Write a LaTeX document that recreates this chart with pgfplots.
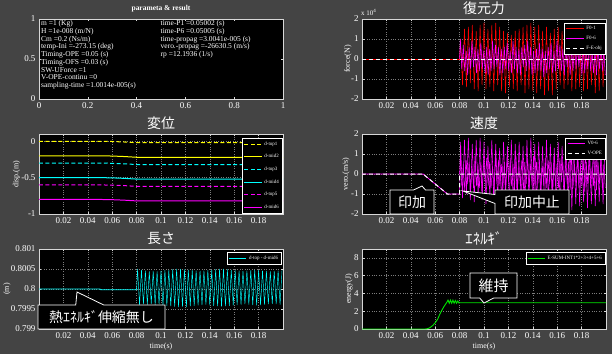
\documentclass[border=0pt]{standalone}
\usepackage{pgfplots}
\pgfplotsset{compat=1.18}
\usepackage{pgfplotstable}
\usepackage{fontspec}
\setmainfont{Liberation Serif}
\newfontfamily\cjk{Noto Sans CJK JP}
\usetikzlibrary{shapes.callouts}
\definecolor{bg}{RGB}{68,68,68}
\definecolor{axc}{RGB}{215,215,215}
\definecolor{gridc}{RGB}{125,125,125}
\definecolor{myyel}{RGB}{255,255,0}
\definecolor{mycyan}{RGB}{0,255,255}
\definecolor{mymag}{RGB}{255,0,255}
\definecolor{myred}{RGB}{255,0,0}
\definecolor{mygreen}{RGB}{0,230,0}

\pgfplotstableread{
t F01 V06 L
0.0800 0 -1 0.80000
0.0808 1.0 1.6 0.80050
0.0824 -1.3 -1.2 0.79960
0.0840 1.5 1.7 0.80048
0.0856 -1.4 -1.0 0.79962
0.0872 1.6 1.8 0.80046
0.0888 -1.2 -1.3 0.79961
0.0904 1.7 1.5 0.80044
0.0920 -1.5 -1.4 0.79963
0.0936 1.4 1.7 0.80045
0.0952 -1.6 -1.1 0.79960
0.0968 1.7 1.8 0.80044
0.0984 -1.3 -1.3 0.79962
0.1000 1.8 1.6 0.80046
0.1016 -1.5 -1.5 0.79959
0.1032 1.5 1.4 0.80047
0.1048 -1.4 -1.2 0.79958
0.1064 1.7 1.7 0.80048
0.1080 -1.6 -1.4 0.79957
0.1096 1.8 1.5 0.80049
0.1112 -1.3 -1.3 0.79956
0.1128 1.6 1.3 0.80050
0.1144 -1.6 -1.5 0.79955
0.1160 1.4 1.6 0.80050
0.1176 -1.7 -1.2 0.79956
0.1192 1.3 1.4 0.80049
0.1208 -1.4 -1.4 0.79955
0.1224 1.2 1.7 0.80048
0.1240 -1.5 -1.6 0.79957
0.1256 1.4 1.5 0.80047
0.1272 -1.6 -1.3 0.79958
0.1288 1.5 1.6 0.80046
0.1304 -1.3 -1.5 0.79959
0.1320 1.6 1.4 0.80045
0.1336 -1.7 -1.4 0.79960
0.1352 1.7 1.7 0.80046
0.1368 -1.5 -1.2 0.79961
0.1384 1.8 1.8 0.80047
0.1400 -1.6 -1.6 0.79959
0.1416 1.6 1.5 0.80048
0.1432 -1.7 -1.5 0.79958
0.1448 1.7 1.6 0.80049
0.1464 -1.5 -1.3 0.79957
0.1480 1.4 1.4 0.80050
0.1496 -1.8 -1.7 0.79956
0.1512 1.6 1.7 0.80050
0.1528 -1.6 -1.4 0.79957
0.1544 1.3 1.5 0.80049
0.1560 -1.8 -1.6 0.79958
0.1576 1.5 1.3 0.80048
0.1592 -1.5 -1.5 0.79959
0.1608 1.6 1.6 0.80047
0.1624 -1.3 -1.7 0.79960
0.1640 1.4 1.4 0.80046
0.1656 -1.5 -1.4 0.79961
0.1672 1.6 1.8 0.80045
0.1688 -1.3 -1.6 0.79962
0.1704 1.7 1.7 0.80046
0.1720 -1.6 -1.8 0.79961
0.1736 1.7 1.5 0.80047
0.1752 -1.5 -1.5 0.79960
0.1768 1.4 1.4 0.80048
0.1784 -1.4 -1.6 0.79959
0.1800 1.6 1.6 0.80047
0.1816 -1.6 -1.4 0.79960
0.1832 1.3 1.3 0.80046
0.1848 -1.5 -1.7 0.79961
0.1864 1.5 1.5 0.80045
0.1880 -1.3 -1.5 0.79962
0.1896 1.4 1.4 0.80044
0.1912 -1.7 -1.6 0.79963
0.1928 1.3 1.6 0.80045
0.1944 -1.6 -1.4 0.79962
0.1960 1.2 1.3 0.80046
0.1976 -1.4 -1.5 0.79961
0.1992 1.5 1.5 0.80047
}\tabA

\pgfplotstableread{
t F06 Vb Lb
0.0800 0 0 0.80000
0.0806 1.0 0.8 0.80022
0.0818 -0.5 -0.6 0.79982
0.0830 0.7 0.5 0.80025
0.0842 -0.6 -0.9 0.79980
0.0854 0.4 0.7 0.80019
0.0866 -0.8 -0.5 0.79977
0.0878 0.6 0.6 0.80024
0.0890 -0.5 -0.8 0.79983
0.0902 0.9 0.4 0.80021
0.0914 -0.4 -0.7 0.79978
0.0926 0.6 0.9 0.80018
0.0938 -0.7 -0.6 0.79976
0.0950 0.5 0.5 0.80023
0.0962 -0.6 -0.7 0.79981
0.0974 0.8 0.6 0.80020
0.0986 -0.5 -0.9 0.79979
0.0998 0.4 0.7 0.80025
0.1010 -0.7 -0.4 0.79982
0.1022 0.6 0.8 0.80022
0.1034 -0.8 -0.6 0.79980
0.1046 0.5 0.6 0.80019
0.1058 -0.6 -0.7 0.79977
0.1070 0.9 0.4 0.80021
0.1082 -0.5 -0.8 0.79983
0.1094 0.7 0.9 0.80024
0.1106 -0.4 -0.5 0.79978
0.1118 0.6 0.7 0.80018
0.1130 -0.8 -0.6 0.79980
0.1142 0.5 0.5 0.80023
0.1154 -0.7 -0.9 0.79981
0.1166 0.6 0.6 0.80020
0.1178 -0.5 -0.7 0.79976
0.1190 0.8 0.8 0.80022
0.1202 -0.6 -0.4 0.79982
0.1214 0.4 0.7 0.80025
0.1226 -0.7 -0.6 0.79979
0.1238 0.9 0.5 0.80019
0.1250 -0.5 -0.8 0.79977
0.1262 0.6 0.9 0.80021
0.1274 -0.7 -0.7 0.79983
0.1286 0.5 0.4 0.80024
0.1298 -0.8 -0.6 0.79980
0.1310 0.6 0.7 0.80018
0.1322 -0.4 -0.9 0.79978
0.1334 0.7 0.6 0.80023
0.1346 -0.6 -0.5 0.79981
0.1358 0.9 0.8 0.80021
0.1370 -0.5 -0.7 0.79975
0.1382 0.6 0.5 0.80020
0.1394 -0.8 -0.6 0.79982
0.1406 0.4 0.9 0.80022
0.1418 -0.7 -0.8 0.79979
0.1430 0.5 0.6 0.80019
0.1442 -0.6 -0.5 0.79977
0.1454 0.8 0.7 0.80024
0.1466 -0.6 -0.9 0.79980
0.1478 0.5 0.4 0.80018
0.1490 -0.9 -0.6 0.79978
0.1502 0.4 0.8 0.80021
0.1514 -0.7 -0.7 0.79981
0.1526 0.6 0.7 0.80023
0.1538 -0.5 -0.5 0.79983
0.1550 0.8 0.6 0.80020
0.1562 -0.7 -0.8 0.79976
0.1574 0.4 0.9 0.80019
0.1586 -0.6 -0.6 0.79979
0.1598 0.9 0.5 0.80025
0.1610 -0.5 -0.7 0.79982
0.1622 0.7 0.8 0.80022
0.1634 -0.6 -0.4 0.79980
0.1646 0.5 0.6 0.80018
0.1658 -0.8 -0.9 0.79977
0.1670 0.6 0.7 0.80021
0.1682 -0.4 -0.5 0.79981
0.1694 0.7 0.6 0.80024
0.1706 -0.8 -0.8 0.79978
0.1718 0.5 0.9 0.80020
0.1730 -0.6 -0.7 0.79982
0.1742 0.9 0.5 0.80023
0.1754 -0.5 -0.6 0.79979
0.1766 0.7 0.8 0.80019
0.1778 -0.4 -0.7 0.79978
0.1790 0.6 0.5 0.80024
0.1802 -0.8 -0.6 0.79980
0.1814 0.5 0.7 0.80021
0.1826 -0.7 -0.9 0.79982
0.1838 0.6 0.6 0.80023
0.1850 -0.5 -0.5 0.79975
0.1862 0.9 0.8 0.80020
0.1874 -0.6 -0.7 0.79981
0.1886 0.4 0.4 0.80022
0.1898 -0.7 -0.6 0.79979
0.1910 0.5 0.9 0.80018
0.1922 -0.8 -0.8 0.79976
0.1934 0.6 0.6 0.80021
0.1946 -0.5 -0.5 0.79980
0.1958 0.7 0.7 0.80025
0.1970 -0.6 -0.8 0.79981
0.1982 0.4 0.5 0.80022
0.1994 -0.8 -0.7 0.79977
}\tabB

\pgfplotsset{
  base/.style={
    scale only axis, width=244bp, height=80bp,
    axis background/.style={fill=black},
    axis line style={draw=axc, line width=0.5pt},
    tick style={draw=axc, line width=0.4pt},
    major tick length=2.5pt,
    tick label style={text=white, font=\fontsize{9}{9}\selectfont},
    label style={text=white, font=\fontsize{8}{8}\selectfont},
    title style={text=white, font=\cjk\fontsize{14}{14}\selectfont, at={(0.5,1)}, anchor=south, inner sep=0pt, yshift=-2pt},
    legend style={fill=black, draw=white, text=white, font=\fontsize{5}{5}\selectfont, line width=0.4pt, inner sep=1.5pt, row sep=1.2pt},
    legend cell align=left,
    legend image code/.code={\draw[##1] (0cm,0cm) -- (0.62cm,0cm);},
  },
  timeax/.style={base, xmin=0, xmax=0.2,
    xtick={0.02,0.04,0.06,0.08,0.1,0.12,0.14,0.16,0.18},
    xticklabels={0.02,0.04,0.06,0.08,0.1,0.12,0.14,0.16,0.18},
    grid=major, grid style={dotted, draw=gridc, line width=0.45pt},
  },
}

\begin{document}
\begin{tikzpicture}[x=1bp,y=1bp]
\fill[bg] (0,0) rectangle (612,354);

% ---------- panel 1: parameters ----------
\begin{axis}[base, at={(39bp,255bp)}, anchor=south west,
  xmin=0, xmax=1, ymin=0, ymax=1,
  xtick={0,0.2,0.4,0.6,0.8,1}, xticklabels={0,0.2,0.4,0.6,0.8,1},
  ytick={0,0.5,1}, yticklabels={0,0.5,1},
  title={parameta \& result},
  title style={font=\bfseries\fontsize{7.5}{7.5}\selectfont, yshift=2.5pt}]
\node[anchor=north west, inner sep=0pt, align=left, text=white, font=\fontsize{7.5}{7.8}\selectfont] at (axis cs:0.008,0.985)
 {m =1 (Kg)\\H =1e-008 (m/N)\\Cm =0.2 (Ns/m)\\temp-Ini =-273.15 (deg)\\Timing-OPE =0.05 (s)\\Timing-OFS =0.03 (s)\\SW-UForce =1\\V-OPE-continu =0\\sampling-time =1.0014e-005(s)};
\node[anchor=north west, inner sep=0pt, align=left, text=white, font=\fontsize{7.5}{7.8}\selectfont] at (axis cs:0.498,0.985)
 {time-P1 =0.05002 (s)\\time-P6 =0.05005 (s)\\time-propag =3.0041e-005 (s)\\vero.-propag =-26630.5 (m/s)\\rp =12.1936 (1/s)};
\end{axis}

% ---------- panel 2: force ----------
\begin{axis}[timeax, at={(362bp,255bp)}, anchor=south west,
  ymin=-2, ymax=2, ytick={-2,-1,0,1,2}, yticklabels={-2,-1,0,1,2},
  title={復元力}, ylabel={force(N)},
  ylabel style={at={(axis description cs:-0.058,0.5)}, anchor=center},
  legend style={at={(0.998,0.955)}, anchor=north east}]
\addplot[myred, line width=0.6pt, forget plot] coordinates {(0,0) (0.08,0)};
\addplot[myred, line width=0.55pt] table[x=t, y=F01] {\tabA};
\addplot[mymag, line width=0.55pt] table[x=t, y=F06] {\tabB};
\addplot[white, line width=1pt, dash pattern=on 4pt off 3pt] coordinates {(0,0) (0.2,0)};
\legend{F0-1,F0-6,F-E-obj}
\end{axis}
\node[anchor=south west, inner sep=0pt, text=white, font=\fontsize{7}{7}\selectfont] at (361,338) {x 10\textsuperscript{4}};

% ---------- panel 3: displacement ----------
\begin{axis}[timeax, at={(39bp,140bp)}, anchor=south west,
  ymin=-1, ymax=0.1, ytick={-1,-0.5,0}, yticklabels={-1,-0.5,0},
  title={変位}, ylabel={disp.(m)},
  ylabel style={at={(axis description cs:-0.092,0.5)}, anchor=center},
  legend style={at={(0.998,0.95)}, anchor=north east, row sep=3.7pt}]
\addplot[myyel, line width=1pt, dash pattern=on 4pt off 2.5pt] coordinates {(0,0) (0.05,0) (0.06,-0.003) (0.07,-0.01) (0.08,-0.02) (0.2,-0.02)};
\addplot[myyel, line width=1pt] coordinates {(0,-0.2) (0.05,-0.2) (0.06,-0.203) (0.07,-0.21) (0.08,-0.22) (0.2,-0.22)};
\addplot[mycyan, line width=1pt, dash pattern=on 4pt off 2.5pt] coordinates {(0,-0.3) (0.05,-0.3) (0.06,-0.303) (0.07,-0.31) (0.08,-0.32) (0.2,-0.32)};
\addplot[mycyan, line width=1pt] coordinates {(0,-0.5) (0.05,-0.5) (0.06,-0.503) (0.07,-0.51) (0.08,-0.52) (0.2,-0.52)};
\addplot[mymag, line width=1pt, dash pattern=on 4pt off 2.5pt] coordinates {(0,-0.6) (0.05,-0.6) (0.06,-0.603) (0.07,-0.61) (0.08,-0.62) (0.2,-0.62)};
\addplot[mymag, line width=1pt] coordinates {(0,-0.8) (0.05,-0.8) (0.06,-0.803) (0.07,-0.81) (0.08,-0.82) (0.2,-0.82)};
\legend{d-top1,d-mid2,d-top3,d-mid4,d-top5,d-mid6}
\end{axis}

% ---------- panel 4: velocity ----------
\begin{axis}[timeax, at={(362bp,140bp)}, anchor=south west,
  ymin=-2, ymax=2, ytick={-2,-1,0,1,2}, yticklabels={-2,-1,0,1,2},
  title={速度}, ylabel={vero.(m/s)},
  ylabel style={at={(axis description cs:-0.066,0.5)}, anchor=center},
  legend style={at={(0.998,0.955)}, anchor=north east}]
\addplot[mymag, line width=0.5pt, forget plot] table[x=t, y=Vb] {\tabB};
\addplot[mymag, line width=0.8pt, forget plot] coordinates {(0,0) (0.05,0) (0.07,-1) (0.08,-1)};
\addplot[mymag, line width=0.55pt, legend image post style={line width=0.9pt}] table[x=t, y=V06] {\tabA};
\addplot[white, line width=1pt, dash pattern=on 4pt off 3pt] coordinates {(0,0) (0.05,0) (0.07,-1) (0.08,-1) (0.08,0) (0.2,0)};
\legend{V0-6,V-OPE}
\end{axis}

% ---------- panel 5: length ----------
\begin{axis}[timeax, at={(39bp,25bp)}, anchor=south west,
  ymin=0.799, ymax=0.801, ytick={0.799,0.7995,0.8,0.8005,0.801}, yticklabels={0.799,0.7995,0.8,0.8005,0.801},
  title={長さ}, ylabel={(m)}, xlabel={time(s)},
  ylabel style={at={(axis description cs:-0.131,0.5)}, anchor=center},
  xlabel style={at={(axis description cs:0.5,-0.215)}, anchor=center},
  legend style={at={(0.995,0.96)}, anchor=north east}]
\addplot[mycyan, line width=0.8pt, forget plot] coordinates {(0,0.8) (0.05,0.8) (0.0505,0.79998) (0.0795,0.79998) (0.08,0.8)};
\addplot[mycyan, line width=0.45pt, legend image post style={line width=1.2pt}] table[x=t, y=L] {\tabA};
\legend{d-top - d-mid6}
\end{axis}

% ---------- panel 6: energy ----------
\begin{axis}[timeax, at={(362bp,25bp)}, anchor=south west,
  ymin=0, ymax=9, ytick={0,2,4,6,8}, yticklabels={0,2,4,6,8},
  title={ｴﾈﾙｷﾞ}, title style={font=\cjk\fontsize{15}{15}\selectfont},
  ylabel={energy(J)}, xlabel={time(s)},
  ylabel style={at={(axis description cs:-0.053,0.5)}, anchor=center},
  xlabel style={at={(axis description cs:0.5,-0.215)}, anchor=center},
  legend style={at={(0.998,0.96)}, anchor=north east}]
\addplot[mygreen, line width=0.9pt] coordinates {(0,0) (0.052,0) (0.054,0.05) (0.056,0.18) (0.058,0.4) (0.060,0.7) (0.062,1.1) (0.0634,1.55) (0.065,2.0) (0.0675,2.6) (0.0695,3.0) (0.0705,3.25) (0.0715,2.9) (0.0725,3.25) (0.0735,2.9) (0.0745,3.25) (0.0755,2.9) (0.0765,3.2) (0.0775,2.9) (0.0785,3.15) (0.0795,2.92) (0.08,2.95) (0.2,2.95)};
\legend{E-SUM-INT1*2+3+4+5+6}
\end{axis}

% ---------- callouts ----------
\tikzset{callst/.style={rectangle callout, draw=white, fill=black, text=white, line width=0.8pt, font=\cjk\fontsize{14}{14}\selectfont, inner sep=0pt, anchor=center}}
\node[callst, minimum width=44bp, minimum height=24bp, callout absolute pointer={(422,168)}, callout pointer width=12bp] at (412,152) {印加};
\node[callst, minimum width=74bp, minimum height=24bp, callout absolute pointer={(463,163)}, callout pointer width=9bp] at (532,152) {印加中止};
\node[callst, minimum width=127bp, minimum height=24bp, callout absolute pointer={(77,62)}, callout pointer width=28bp] at (101.5,37) {熱ｴﾈﾙｷﾞ伸縮無し};
\node[callst, minimum width=47bp, minimum height=25bp, callout absolute pointer={(484,51)}, callout pointer width=14bp, font=\cjk\fontsize{15}{15}\selectfont] at (493.5,68.5) {維持};

\pgfresetboundingbox
\path[use as bounding box] (0,0) rectangle (612,354);
\end{tikzpicture}
\end{document}
